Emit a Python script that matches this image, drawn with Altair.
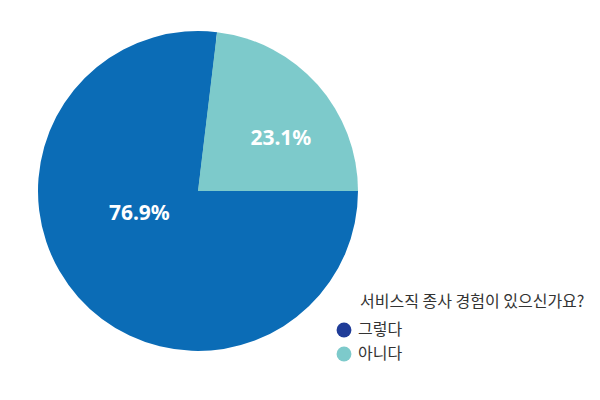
import math
import altair as alt
import pandas as pd

categories = ["그렇다", "아니다"]
values = [76.9, 23.1]
labels = ["76.9%", "23.1%"]
order = [1, 2]
pie_colors = ["#0b6cb6", "#7dcacb"]
legend_colors = ["#1f3c98", "#7dcacb"]
legend_title = "\u200d\u2003\u2002서비스직 종사 경험이 있으신가요?"

df = pd.DataFrame({"cat": categories, "value": values, "label": labels, "idx": order})

theta_scale = alt.Scale(range=[math.pi / 2, math.pi / 2 + 2 * math.pi])
base = alt.Chart(df)
theta_enc = alt.Theta("value:Q", stack=True, scale=theta_scale)
order_enc = alt.Order("idx:Q", sort="ascending")

legend_layer = base.mark_arc(outerRadius=150).encode(
    theta=theta_enc,
    order=order_enc,
    color=alt.Color(
        "cat:N",
        scale=alt.Scale(domain=categories, range=legend_colors),
        legend=alt.Legend(
            title=legend_title,
            orient="none",
            legendX=323,
            legendY=281,
            symbolType="circle",
            symbolSize=220,
            symbolStrokeWidth=0,
            rowPadding=8,
            titlePadding=12,
            labelOffset=6,
            titleFont="Noto Sans CJK KR",
            labelFont="Noto Sans CJK KR",
            titleFontSize=16,
            labelFontSize=16,
            titleFontWeight="normal",
            titleColor="#333333",
            labelColor="#333333",
            titleLimit=400,
        ),
    ),
)

pie = base.mark_arc(outerRadius=160, strokeWidth=0).encode(
    theta=theta_enc,
    order=order_enc,
    color=alt.Color(
        "cat:N",
        scale=alt.Scale(domain=categories, range=pie_colors),
        legend=None,
    ),
)

text_big = base.transform_calculate(
    t="datum.cat == '그렇다' ? datum.label : ''"
).mark_text(
    radius=63, thetaOffset=0.351, color="white", font="Noto Sans",
    fontWeight="bold", fontSize=21, align="center", baseline="middle"
).encode(
    theta=theta_enc,
    order=order_enc,
    text="t:N",
)

text_small = base.transform_calculate(
    t="datum.cat == '아니다' ? datum.label : ''"
).mark_text(
    radius=98, thetaOffset=0.162, color="white", font="Noto Sans",
    fontWeight="bold", fontSize=21, align="center", baseline="middle"
).encode(
    theta=theta_enc,
    order=order_enc,
    text="t:N",
)

chart = (
    alt.layer(legend_layer, pie, text_big, text_small)
    .resolve_scale(color="independent")
    .properties(width=370, height=356, background="white")
    .configure_view(stroke=None)
)

chart.save("out.html", embed_options={"renderer": "svg", "actions": False})
